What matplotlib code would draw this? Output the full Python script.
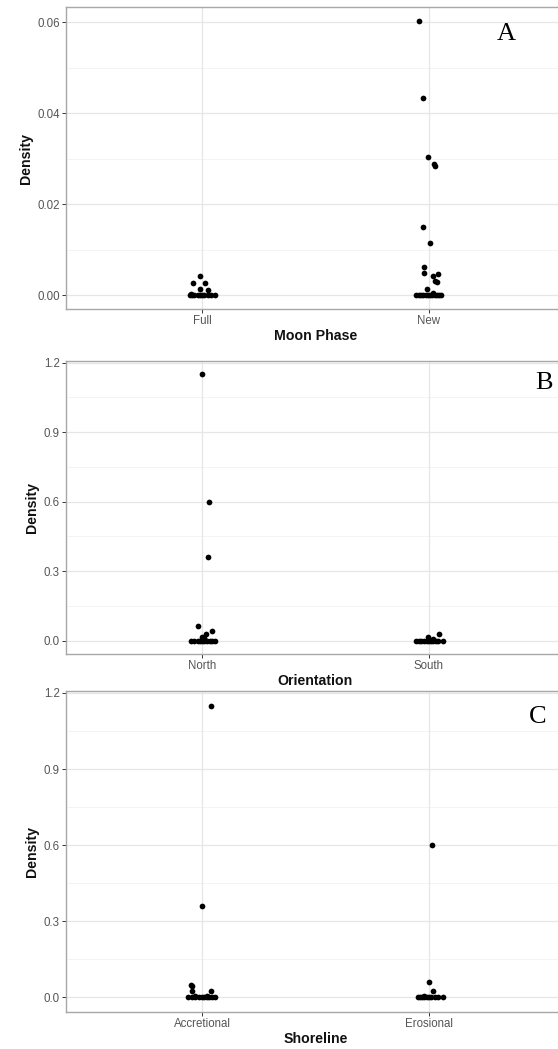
import numpy as np
import matplotlib
matplotlib.use("Agg")
import matplotlib.pyplot as plt

plt.rcParams["font.family"] = ["Liberation Sans", "DejaVu Sans"]

# Density per survey, grouped by factor; offsets are the horizontal jitter of each point
moon_cats = ["Full", "New"]
full_density = [0.0042, 0.0028, 0.0028, 0.0014, 0.0012, 0.0003,
                0.0, 0.0, 0.0, 0.0, 0.0, 0.0, 0.0, 0.0, 0.0, 0.0]
full_offset = [-0.01, -0.04, 0.013, -0.01, 0.026, -0.05,
               -0.055, -0.045, -0.035, -0.02, -0.01, 0.0, 0.01, 0.025, 0.04, 0.055]
new_density = [0.0603, 0.0433, 0.0304, 0.0289, 0.0283, 0.0150, 0.0114, 0.0062,
               0.0048, 0.0042, 0.0046, 0.0031, 0.0029, 0.0013, 0.0006,
               0.0, 0.0, 0.0, 0.0, 0.0, 0.0, 0.0, 0.0, 0.0, 0.0, 0.0, 0.0]
new_offset = [-0.043, -0.028, -0.006, 0.023, 0.026, -0.025, 0.006, -0.023,
              -0.021, 0.016, 0.041, 0.026, 0.037, -0.010, 0.019,
              -0.055, -0.045, -0.035, -0.025, -0.015, -0.005, 0.005, 0.015, 0.025, 0.035, 0.045, 0.053]

orient_cats = ["North", "South"]
north_density = [1.15, 0.60, 0.36, 0.063, 0.042, 0.031, 0.014, 0.012,
                 0.0, 0.0, 0.0, 0.0, 0.0, 0.0, 0.0, 0.0, 0.0, 0.0]
north_offset = [0.0, 0.03, 0.026, -0.02, 0.044, 0.019, 0.0, 0.01,
                -0.05, -0.035, -0.02, -0.01, 0.0, 0.01, 0.02, 0.035, 0.045, 0.057]
south_density = [0.031, 0.014, 0.006,
                 0.0, 0.0, 0.0, 0.0, 0.0, 0.0, 0.0, 0.0, 0.0, 0.0, 0.0]
south_offset = [0.044, -0.006, 0.02,
                -0.057, -0.045, -0.033, -0.022, -0.01, 0.0, 0.01, 0.02, 0.03, 0.042, 0.06]

shore_cats = ["Accretional", "Erosional"]
accr_density = [1.15, 0.36, 0.047, 0.043, 0.027, 0.024, 0.007, 0.006,
                0.0, 0.0, 0.0, 0.0, 0.0, 0.0, 0.0, 0.0, 0.0, 0.0]
accr_offset = [0.041, 0.001, -0.047, -0.043, -0.043, 0.04, -0.03, 0.02,
               -0.06, -0.045, -0.03, -0.015, 0.0, 0.01, 0.02, 0.03, 0.045, 0.056]
eros_density = [0.60, 0.06, 0.027, 0.005,
                0.0, 0.0, 0.0, 0.0, 0.0, 0.0, 0.0, 0.0, 0.0, 0.0]
eros_offset = [0.015, 0.002, 0.016, -0.02,
               -0.05, -0.04, -0.03, -0.02, -0.01, 0.0, 0.01, 0.025, 0.04, 0.06]

W, H = 558, 1049
fig = plt.figure(figsize=(W / 100, H / 100), dpi=100)
fig.patch.set_facecolor("white")


def px_axes(left, top, right, bottom):
    return fig.add_axes([left / W, 1 - bottom / H, (right - left) / W, (bottom - top) / H])


def panel(ax, cats, groups, yticks, fmt, xlabel):
    ymax = max(max(d) for d, o in groups)
    ax.set_ylim(-0.05 * ymax, 1.05 * ymax)
    ax.set_xlim(0.4, 2.6)
    for i, (dens, off) in enumerate(groups):
        x = (i + 1) + np.array(off)
        ax.scatter(x, dens, s=17, color="black", linewidths=0, zorder=3)
    ax.set_xticks([1, 2])
    ax.set_xticklabels(cats)
    ax.set_yticks(yticks)
    ax.set_yticklabels([fmt.format(v) for v in yticks])
    # minor grid halfway between the major breaks
    minor = [(a + b) / 2 for a, b in zip(yticks[:-1], yticks[1:])]
    for m in minor:
        ax.axhline(m, color="#f3f3f3", lw=0.6, zorder=0)
    for t in yticks:
        ax.axhline(t, color="#e6e6e6", lw=0.9, zorder=1)
    for t in [1, 2]:
        ax.axvline(t, color="#e6e6e6", lw=0.9, zorder=1)
    for s in ax.spines.values():
        s.set_color("#a8a8a8")
        s.set_linewidth(1.0)
    ax.tick_params(axis="both", length=3, width=0.7, color="#333333",
                   labelsize=8.3, labelcolor="#555555", pad=1.5)
    ax.set_xlabel(xlabel, fontsize=10.2, fontweight="bold", color="#111111", labelpad=1)
    ax.set_ylabel("Density", fontsize=10.2, fontweight="bold", color="#111111", labelpad=3)


ax_a = px_axes(66, 7, 565, 309)
panel(ax_a, moon_cats, [(full_density, full_offset), (new_density, new_offset)],
      [0.0, 0.02, 0.04, 0.06], "{:.2f}", "Moon Phase")

ax_b = px_axes(66, 361, 565, 654)
panel(ax_b, orient_cats, [(north_density, north_offset), (south_density, south_offset)],
      [0.0, 0.3, 0.6, 0.9, 1.2], "{:.1f}", "Orientation")

ax_c = px_axes(66, 691, 565, 1012)
panel(ax_c, shore_cats, [(accr_density, accr_offset), (eros_density, eros_offset)],
      [0.0, 0.3, 0.6, 0.9, 1.2], "{:.1f}", "Shoreline")

# Panel letters
for letter, xp, yp in [("A", 506, 34), ("B", 544, 383), ("C", 538, 717)]:
    fig.text(xp / W, 1 - yp / H, letter, fontsize=19, family="Liberation Serif",
             ha="center", va="center", color="black")

fig.savefig("out.png", dpi=100, facecolor="white")
